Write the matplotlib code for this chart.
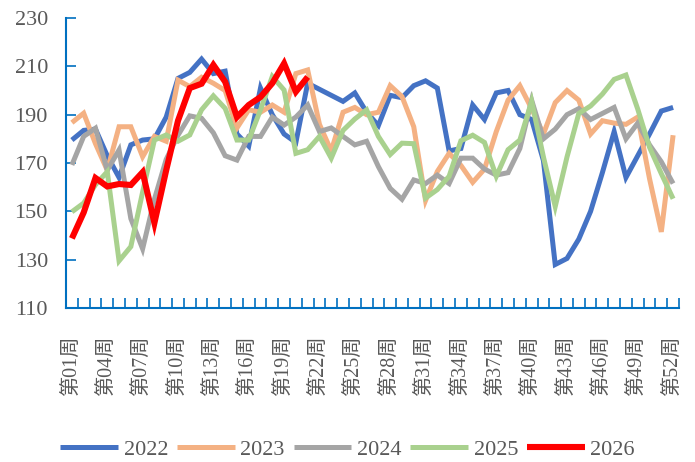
import numpy as np
import matplotlib
matplotlib.use("Agg")
import matplotlib.pyplot as plt
from matplotlib.ticker import FixedLocator

plt.rcParams['font.family'] = ['Liberation Serif', 'Noto Sans CJK SC', 'DejaVu Sans']

weeks = list(range(1, 53))
week_labels = ["第%02d周" % w for w in range(1, 53, 3)]

# 周度数据
y2022 = [179.5, 183.5, 184, 173, 164, 177.5, 179.5, 180, 189, 205,
         207.5, 213, 207, 208, 182, 177, 201, 190, 182, 178.5,
         203, 200.5, 198, 195.5, 199, 191, 185.5, 198, 197, 202,
         204, 201, 175, 176, 194, 188, 199, 200, 190, 188,
         171, 128, 130.5, 138.5, 150, 166, 183, 164, 173, 182,
         191.5, 193]
y2023 = [186.7, 190.6, 178, 167, 185, 185, 172.6, 181, 179, 204.3,
         201.6, 205.5, 203, 200, 184.5, 192, 191, 194, 191, 207,
         208.5, 186, 175, 191, 193, 190, 191, 202, 197.5, 185,
         154.5, 166.5, 174, 169, 162, 167.5, 183, 196, 202, 192.5,
         182, 195, 200, 196, 182, 187.5, 186.5, 186, 189, 163.5,
         141.5, 181.5]
y2024 = [169.2, 181, 184.4, 167, 175.4, 147, 134.5, 155, 171.5, 181.5,
         189.5, 188.5, 182.5, 173, 171.2, 181, 181, 189, 185.7, 189,
         194, 183, 184.5, 181, 177.5, 179, 168.5, 159.5, 155, 163,
         161.5, 165, 161.5, 172, 172, 167.5, 165, 166, 176, 196,
         180, 184, 190, 192.5, 188, 190.5, 193, 180, 186.5, 177.5,
         170.5, 161.5]
y2025 = [149.8, 153.4, 161, 166.4, 129.5, 135.4, 158, 179.5, 181.6, 179,
         181.6, 192, 197.8, 192.6, 179.5, 179.5, 192, 205.8, 200.2, 174,
         175.5, 181, 172, 183.5, 188.2, 192, 181, 173.5, 178.2, 178,
         155.5, 159, 164.5, 179.2, 181.5, 178.5, 164.5, 175.5, 179.5, 195.5,
         172.5, 152, 172.5, 190.5, 193.6, 198.5, 204.6, 206.4, 192.3, 176.5,
         165.6, 155.2]
y2026 = [138.8, 149.5, 163.8, 160.3, 161.3, 160.9, 166.2, 145.2, 167, 187.5,
         201, 202.8, 210.6, 203.6, 189, 194, 197.3, 203, 211.2, 199.5,
         205.6]

series = [
    ("2022", y2022, "#4472C4", 3.6),
    ("2023", y2023, "#F4B183", 3.6),
    ("2024", y2024, "#A5A5A5", 3.6),
    ("2025", y2025, "#A9D18E", 3.6),
    ("2026", y2026, "#FF0000", 4.4),
]

axis_color = "#0070C0"
text_color = "#595959"

fig = plt.figure(figsize=(6.95, 4.62), dpi=100)
ax = fig.add_axes([66 / 695, 154 / 462, 613 / 695, 290 / 462])

for name, vals, color, lw in series:
    ax.plot(weeks[:len(vals)], vals, color=color, linewidth=lw, label=name,
            solid_joinstyle="miter", solid_capstyle="butt")

ax.set_xlim(0.5, 52.5)
ax.set_ylim(110, 230)
ax.set_yticks(range(110, 231, 20))

ax.set_xticks(list(range(1, 53, 3)))
ax.set_xticklabels(week_labels, rotation=90, fontsize=14.5, color=text_color)
ax.xaxis.set_minor_locator(FixedLocator(np.arange(0.5, 53, 1)))
ax.tick_params(axis="x", which="major", length=0, pad=20)
ax.tick_params(axis="x", which="minor", direction="in", length=7,
               width=1.2, color=axis_color)
ax.tick_params(axis="y", direction="in", length=7, width=1.2,
               color=axis_color, labelsize=16, labelcolor=text_color, pad=13)

for side in ["top", "right"]:
    ax.spines[side].set_visible(False)
for side in ["left", "bottom"]:
    ax.spines[side].set_color(axis_color)
    ax.spines[side].set_linewidth(1.5)

fig.legend(loc="center", bbox_to_anchor=(0.5, 0.027), ncol=5, frameon=False,
           fontsize=16, handlelength=2.6, handletextpad=0.25,
           columnspacing=0.4, labelcolor=text_color)

fig.savefig("out.png", dpi=100)
